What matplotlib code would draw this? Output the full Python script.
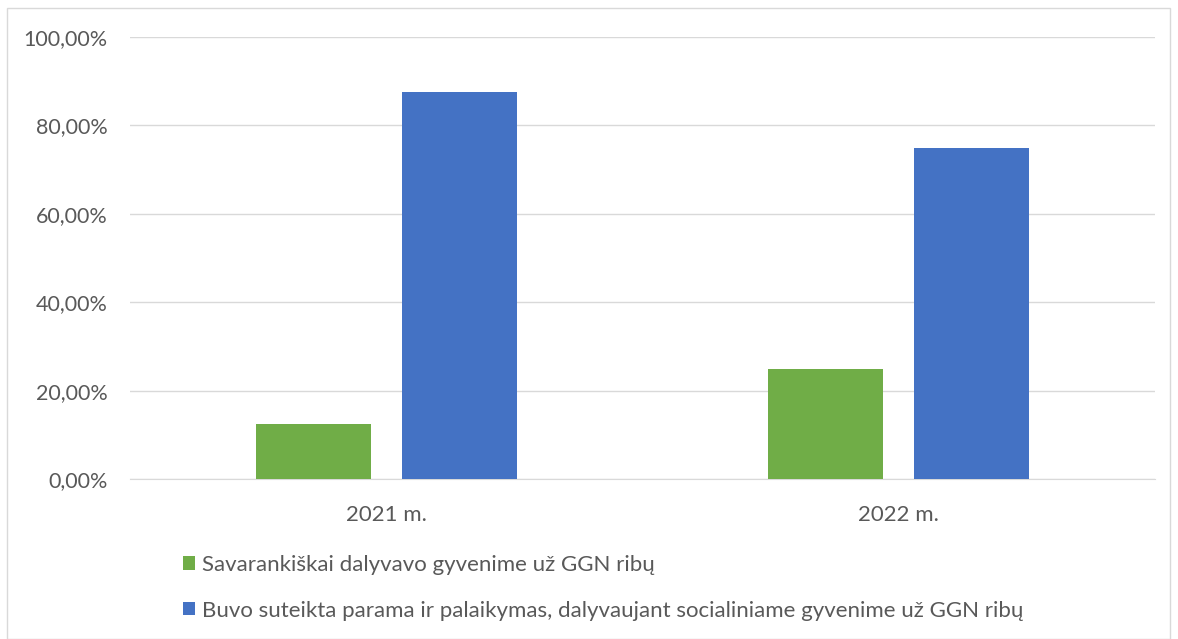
import numpy as np
import matplotlib.pyplot as plt
from matplotlib.patches import Rectangle
from matplotlib.ticker import FuncFormatter, MultipleLocator

plt.rcParams['font.family'] = ['Lato', 'DejaVu Sans']

years = ['2021 m.', '2022 m.']
series_names = ['Savarankiškai dalyvavo gyvenime už GGN ribų',
                'Buvo suteikta parama ir palaikymas, dalyvaujant socialiniame gyvenime už GGN ribų']
savarankiskai = [12.5, 25.0]
parama = [87.5, 75.0]

green = '#70ad47'
blue = '#4472c4'
text_col = '#595959'
grid_col = '#d9d9d9'

fig = plt.figure(figsize=(11.78, 6.39), dpi=100)
ax = fig.add_axes([130/1178, 1 - 479/639, (1155 - 130)/1178, (479 - 37)/639])

x = np.arange(len(years))
w = 0.225
gap = 0.06
ax.bar(x - (w + gap)/2, savarankiskai, w, color=green, label=series_names[0], zorder=3)
ax.bar(x + (w + gap)/2, parama, w, color=blue, label=series_names[1], zorder=3)

ax.set_xlim(-0.5, 1.5)
ax.set_ylim(0, 100)
ax.yaxis.set_major_locator(MultipleLocator(20))
ax.yaxis.set_major_formatter(FuncFormatter(lambda v, p: f'{v:.2f}%'.replace('.', ',')))
ax.set_xticks(x)
ax.set_xticklabels(years)
ax.grid(axis='y', color=grid_col, linewidth=1, zorder=0)
ax.tick_params(length=0, labelsize=16, labelcolor=text_col)
ax.tick_params(axis='y', labelsize=15.5, pad=16)
ax.tick_params(axis='x', pad=19)
for s in ['left', 'right', 'top']:
    ax.spines[s].set_visible(False)
ax.spines['bottom'].set_color(grid_col)

leg = fig.legend(loc='upper left', bbox_to_anchor=(163/1178, 1 - 535/639), frameon=False,
                 fontsize=16, labelcolor=text_col, handlelength=0.55, handleheight=0.55,
                 handletextpad=0.3, labelspacing=1.15)

fig.patches.append(Rectangle((7/1178, 0), 1 - 15/1178, 1 - 8/639, transform=fig.transFigure,
                             fill=False, edgecolor=grid_col, linewidth=1))

fig.savefig('out.png', dpi=100)
